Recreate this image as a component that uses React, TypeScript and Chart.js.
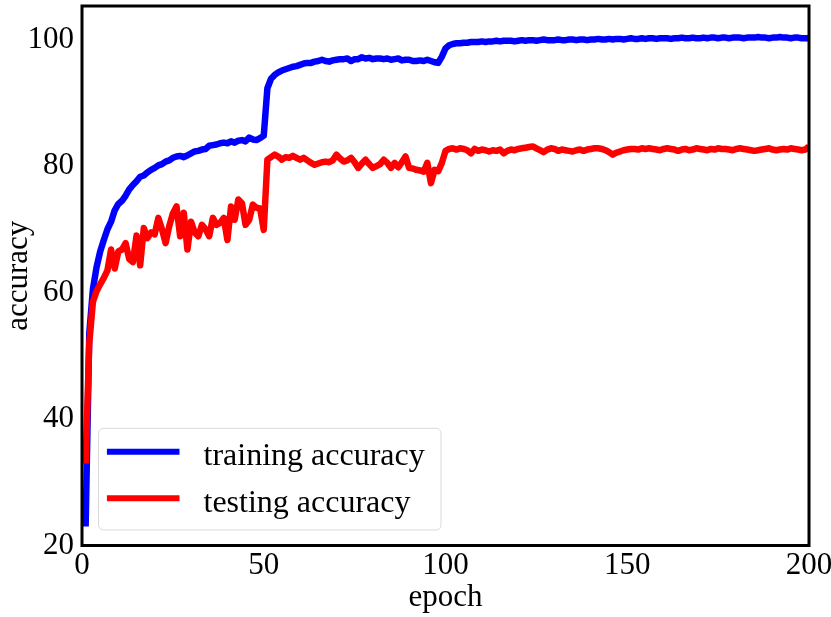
import React, { useEffect, useRef } from "react";
import { Chart, registerables } from "chart.js";

Chart.register(...registerables);

const EPOCHS: number[] = Array.from({ length: 200 }, (_, i) => i + 1);

const TRAIN_ACC: number[] = [
  23.0, 53.5, 60.5, 64.0, 66.5, 68.3, 70.0, 71.2, 73.0, 74.0,
  74.5, 75.3, 76.3, 77.0, 77.6, 78.3, 78.5, 79.0, 79.4, 79.7,
  80.1, 80.3, 80.7, 80.9, 81.3, 81.5, 81.6, 81.4, 81.7, 82.0,
  82.3, 82.4, 82.6, 82.7, 83.2, 83.3, 83.4, 83.6, 83.7, 83.6,
  83.9, 83.7, 84.0, 84.1, 83.9, 84.5, 84.2, 84.1, 84.4, 84.8,
  92.3, 93.8, 94.4, 94.8, 95.1, 95.3, 95.5, 95.7, 95.8, 96.0,
  96.2, 96.3, 96.3, 96.5, 96.6, 96.8, 96.6, 96.5, 96.7, 96.8,
  96.9, 96.9, 97.0, 96.6, 96.9, 96.9, 97.2, 97.0, 97.1, 96.9,
  97.0, 97.0, 96.9, 97.0, 96.8, 96.9, 97.0, 96.7, 96.8, 96.8,
  96.6, 96.6, 96.7, 96.6, 96.8, 96.6, 96.4, 96.3, 97.3, 98.6,
  99.1, 99.3, 99.4, 99.4, 99.5, 99.5, 99.6, 99.6, 99.6, 99.7,
  99.6, 99.7, 99.7, 99.8, 99.7, 99.8, 99.8, 99.8, 99.7, 99.8,
  99.9, 99.8, 99.9, 99.9, 99.8, 99.9, 100.0, 99.9, 99.9, 99.9,
  100.0, 99.9, 99.9, 100.0, 100.0, 99.9, 100.0, 100.0, 99.9, 100.0,
  100.0, 100.1, 100.0, 100.0, 100.1, 100.0, 100.1, 100.1, 100.0, 100.1,
  100.2, 100.1, 100.1, 100.2, 100.1, 100.2, 100.2, 100.1, 100.2, 100.2,
  100.2, 100.1, 100.2, 100.2, 100.3, 100.2, 100.2, 100.3, 100.2, 100.2,
  100.3, 100.2, 100.3, 100.3, 100.2, 100.3, 100.3, 100.2, 100.3, 100.3,
  100.3, 100.2, 100.3, 100.3, 100.3, 100.4, 100.3, 100.3, 100.2, 100.3,
  100.3, 100.4, 100.3, 100.3, 100.2, 100.3, 100.3, 100.2, 100.2, 100.2,
];

const TEST_ACC: number[] = [
  33.0, 52.0, 58.5, 60.2, 61.3, 62.3, 63.5, 66.8, 63.8, 66.5,
  66.8, 67.8, 65.3, 64.8, 69.0, 64.3, 70.2, 68.6, 69.5, 69.2,
  71.8, 70.0, 67.8, 70.5, 72.5, 73.6, 68.9, 72.6, 66.8, 71.2,
  69.5, 68.9, 70.7, 70.0, 68.9, 71.8, 70.7, 71.0, 71.8, 68.3,
  73.6, 71.5, 74.7, 74.1, 70.7, 71.5, 73.9, 73.4, 73.3, 69.9,
  81.0, 81.4, 81.8, 81.5, 81.0, 81.4, 81.3, 81.6, 81.3, 81.0,
  81.3, 80.9, 80.5, 80.2, 80.4, 80.6, 80.7, 80.6, 80.9, 81.8,
  81.2, 80.7, 80.9, 81.3, 80.6, 79.7, 80.4, 81.0, 80.3, 79.7,
  80.0, 80.3, 81.0, 80.5, 79.7, 80.5, 79.8, 80.6, 81.5, 79.7,
  79.6, 79.4, 79.3, 79.1, 80.5, 77.3, 79.4, 79.2, 80.5, 82.4,
  82.7, 82.8, 82.6, 82.8, 82.7, 82.5, 82.0, 82.7, 82.4, 82.6,
  82.5, 82.3, 82.5, 82.4, 82.6, 82.0, 82.4, 82.6, 82.5, 82.7,
  82.8, 82.9, 83.0, 83.1, 82.8, 82.5, 82.2, 82.6, 82.8, 82.7,
  82.4, 82.6, 82.5, 82.4, 82.3, 82.5, 82.6, 82.4, 82.6, 82.7,
  82.8, 82.8, 82.7, 82.5, 82.2, 81.8, 82.1, 82.3, 82.5, 82.6,
  82.7, 82.7, 82.6, 82.8, 82.7, 82.8, 82.7, 82.6, 82.5, 82.7,
  82.8, 82.7, 82.6, 82.4, 82.6, 82.7, 82.5, 82.6, 82.8, 82.7,
  82.6, 82.5, 82.7, 82.6, 82.8, 82.7, 82.7, 82.6, 82.5, 82.7,
  82.8, 82.7, 82.6, 82.5, 82.4, 82.5, 82.6, 82.7, 82.8, 82.6,
  82.5, 82.6, 82.7, 82.6, 82.8, 82.7, 82.6, 82.5, 82.6, 83.1,
];

const X_TICKS: number[] = [0, 50, 100, 150, 200];
const Y_TICKS: number[] = [20, 40, 60, 80, 100];
const SERIES_LABELS: string[] = ["training accuracy", "testing accuracy"];
const SERIES_COLORS: string[] = ["#0000ff", "#ff0000"];
const X_TITLE = "epoch";
const Y_TITLE = "accuracy";

const FONT = "'Liberation Serif', 'Times New Roman', Times, serif";

const framePlugin = {
  id: "frame",
  afterDatasetsDraw(chart: any) {
    const { ctx, chartArea: a } = chart;
    ctx.save();
    ctx.strokeStyle = "#000";
    ctx.lineWidth = 3;
    ctx.strokeRect(a.left, a.top, a.right - a.left, a.bottom - a.top);
    ctx.restore();
  },
};

const boxLegendPlugin = {
  id: "boxLegend",
  afterDraw(chart: any) {
    const { ctx, chartArea: a } = chart;
    const x0 = a.left + 16.5;
    const w = 342.5;
    const h = 101.7;
    const y0 = a.bottom - 15.5 - h;
    ctx.save();
    ctx.beginPath();
    if (ctx.roundRect) ctx.roundRect(x0, y0, w, h, 5);
    else ctx.rect(x0, y0, w, h);
    ctx.fillStyle = "rgba(255,255,255,0.8)";
    ctx.fill();
    ctx.strokeStyle = "#d9d9d9";
    ctx.lineWidth = 1;
    ctx.stroke();
    chart.data.datasets.forEach((ds: any, i: number) => {
      const cy = y0 + 23.4 + i * 46.6;
      ctx.beginPath();
      ctx.moveTo(x0 + 8.4, cy);
      ctx.lineTo(x0 + 81, cy);
      ctx.strokeStyle = ds.borderColor;
      ctx.lineWidth = 6;
      ctx.lineCap = "butt";
      ctx.stroke();
      ctx.fillStyle = "#000";
      ctx.font = `32px ${FONT}`;
      ctx.textAlign = "left";
      ctx.textBaseline = "alphabetic";
      ctx.fillText(ds.label, x0 + 105, cy + 13.3);
    });
    ctx.restore();
  },
};

export default function App() {
  const canvasRef = useRef<HTMLCanvasElement | null>(null);

  useEffect(() => {
    document.body.style.margin = "0";
    const canvas = canvasRef.current;
    if (!canvas) return;

    const chart = new Chart(canvas, {
      type: "line",
      data: {
        datasets: [
          {
            label: SERIES_LABELS[0],
            data: EPOCHS.map((e, i) => ({ x: e, y: TRAIN_ACC[i] })),
            borderColor: SERIES_COLORS[0],
            backgroundColor: SERIES_COLORS[0],
            borderWidth: 6.5,
            pointRadius: 0,
            tension: 0,
            borderJoinStyle: "round",
            order: 1,
          },
          {
            label: SERIES_LABELS[1],
            data: EPOCHS.map((e, i) => ({ x: e, y: TEST_ACC[i] })),
            borderColor: SERIES_COLORS[1],
            backgroundColor: SERIES_COLORS[1],
            borderWidth: 6.5,
            pointRadius: 0,
            tension: 0,
            borderJoinStyle: "round",
            order: 0,
          },
        ],
      },
      options: {
        animation: false,
        responsive: true,
        maintainAspectRatio: false,
        layout: { padding: { top: 6, left: 0, right: 0, bottom: 0 } },
        plugins: {
          legend: { display: false },
          tooltip: { enabled: false },
        },
        scales: {
          x: {
            type: "linear",
            min: 0,
            max: 200,
            grid: { display: false, drawTicks: false },
            border: { display: false },
            ticks: {
              font: { family: FONT, size: 31 },
              color: "#000",
              padding: 2,
              maxRotation: 0,
              autoSkip: false,
              includeBounds: false,
            },
            title: {
              display: true,
              text: X_TITLE,
              color: "#000",
              font: { family: FONT, size: 31 },
              padding: { top: 0, bottom: 1 },
            },
            afterBuildTicks: (axis: any) => {
              axis.ticks = X_TICKS.map((v) => ({ value: v }));
            },
            afterFit: (s: any) => {
              s.height = 71.5;
              s.paddingLeft = 0;
              s.paddingRight = 22;
            },
          },
          y: {
            type: "linear",
            min: 20,
            max: 105.3,
            grid: { display: false, drawTicks: false },
            border: { display: false },
            ticks: {
              font: { family: FONT, size: 31 },
              color: "#000",
              padding: 8,
              includeBounds: false,
            },
            title: {
              display: true,
              text: Y_TITLE,
              color: "#000",
              font: { family: FONT, size: 31 },
              padding: { top: 0, bottom: 0 },
            },
            afterBuildTicks: (axis: any) => {
              axis.ticks = Y_TICKS.map((v) => ({ value: v }));
            },
            afterFit: (s: any) => {
              s.width = 82;
              s.paddingTop = 0;
              s.paddingBottom = 0;
            },
          },
        },
      },
      plugins: [framePlugin, boxLegendPlugin],
    } as any);

    return () => {
      chart.destroy();
    };
  }, []);

  return (
    <div style={{ position: "relative", width: 831, height: 617 }}>
      <canvas ref={canvasRef} />
    </div>
  );
}
